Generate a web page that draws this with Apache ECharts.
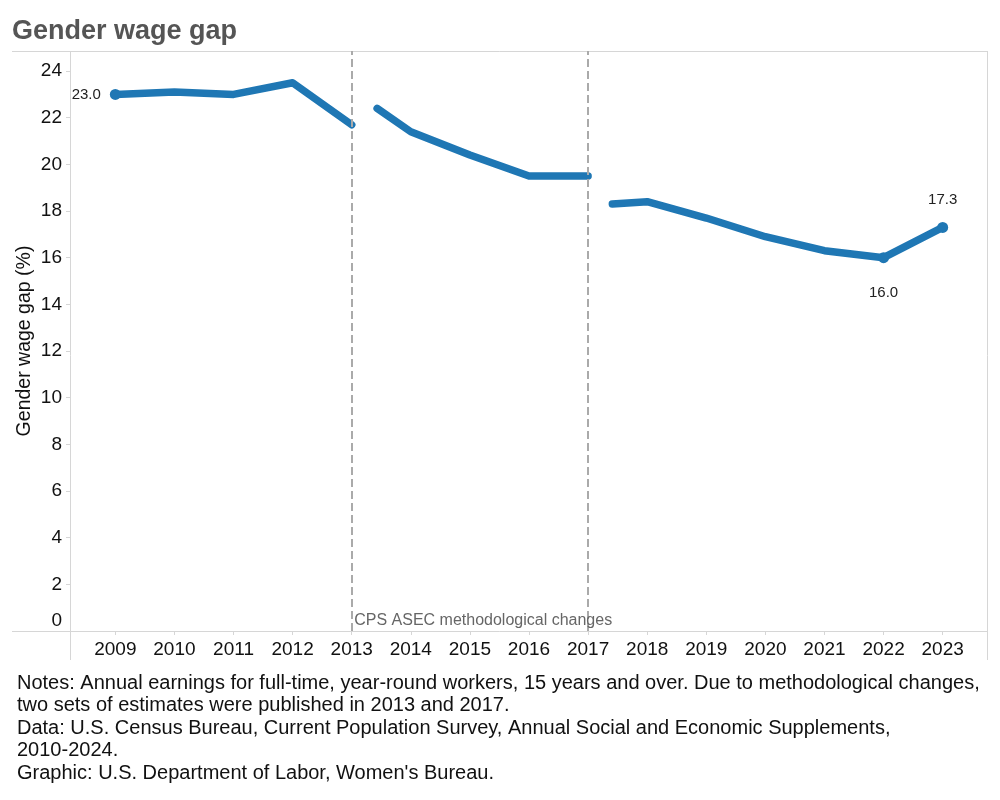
<!DOCTYPE html>
<html>
<head>
<meta charset="utf-8">
<script src="https://cdn.jsdelivr.net/npm/echarts@6/dist/echarts.min.js"></script>
<style>html,body{margin:0;padding:0;background:#fff}#c{width:1000px;height:800px}</style>
</head>
<body>
<div id="c"></div>
<script>
// ---- data ----
const years = [2009, 2010, 2011, 2012, 2013, 2014, 2015, 2016, 2017, 2018, 2019, 2020, 2021, 2022, 2023];
const yTicks = [0, 2, 4, 6, 8, 10, 12, 14, 16, 18, 20, 22, 24];
const seg1Years = [2009, 2010, 2011, 2012, 2013];
const seg1Gap = [23.0, 23.1, 23.0, 23.5, 21.7];
const seg2Years = [2013.43, 2014, 2015, 2016, 2017];
const seg2Gap = [22.4, 21.4, 20.4, 19.5, 19.5];
const seg3Years = [2017.41, 2018, 2019, 2020, 2021, 2022, 2023];
const seg3Gap = [18.3, 18.4, 17.7, 16.9, 16.3, 16.0, 17.3];
const changeYears = [2013, 2017];
const changeLabel = 'CPS ASEC methodological changes';
const titleText = 'Gender wage gap';
const yName = 'Gender wage gap (%)';
const notes = [
  'Notes: Annual earnings for full-time, year-round workers, 15 years and over. Due to methodological changes,',
  'two sets of estimates were published in 2013 and 2017.',
  'Data: U.S. Census Bureau, Current Population Survey, Annual Social and Economic Supplements,',
  '2010-2024.',
  'Graphic: U.S. Department of Labor, Women\'s Bureau.'
];
// which points carry a dot and a value label
const labelled = {
  '2009': {position: 'left', distance: 9},
  '2022': {position: 'bottom', distance: 22},
  '2023': {position: 'top', distance: 15}
};

const FONT = '"Liberation Sans", Arial, sans-serif';
const BLUE = '#1f77b4';
const AXIS = '#d6d6d6';

function build(xs, ys) {
  return xs.map((x, i) => {
    const item = {value: [x, ys[i]]};
    const l = labelled[String(x)];
    if (l) {
      item.symbolSize = 11;
      item.label = {
        show: true, position: l.position, distance: l.distance,
        fontFamily: FONT, fontSize: 15, color: '#222',
        formatter: p => p.value[1].toFixed(1)
      };
    }
    return item;
  });
}

function lineSeries(xs, ys, extra) {
  return Object.assign({
    type: 'line',
    data: build(xs, ys),
    symbol: 'circle',
    symbolSize: 0,
    showAllSymbol: true,
    itemStyle: {color: BLUE},
    lineStyle: {color: BLUE, width: 7.5, cap: 'round', join: 'round'},
    silent: true,
    animation: false,
    z: 3
  }, extra || {});
}

const chart = echarts.init(document.getElementById('c'), null, {renderer: 'canvas'});
chart.setOption({
  backgroundColor: '#fff',
  animation: false,
  title: [
    {text: titleText, left: 7, top: 13,
     textStyle: {fontFamily: FONT, fontSize: 27, fontWeight: 'bold', color: '#555'}},
    {text: notes.join('\n'), left: 12, top: 667,
     textStyle: {fontFamily: FONT, fontSize: 20, fontWeight: 'normal', color: '#111', lineHeight: 22.5}}
  ],
  grid: {left: 71, right: 13, top: 51, bottom: 169, containLabel: false},
  xAxis: {
    type: 'value', min: 2008.25, max: 2023.75,
    axisLine: {show: false},
    axisTick: {show: true, customValues: years, length: 4, lineStyle: {color: AXIS}},
    axisLabel: {customValues: years, margin: 9, fontFamily: FONT, fontSize: 19, color: '#111',
                formatter: v => String(v)},
    splitLine: {show: false}
  },
  yAxis: {
    type: 'value', min: 0, max: 24.86,
    name: yName, nameLocation: 'middle', nameGap: 36, nameRotate: 90, nameMoveOverlap: false,
    nameTextStyle: {fontFamily: FONT, fontSize: 19.5, color: '#111'},
    axisLine: {show: false},
    axisTick: {show: true, customValues: yTicks, length: 5, lineStyle: {color: AXIS}},
    axisLabel: {customValues: yTicks, margin: 9, fontFamily: FONT, fontSize: 19, color: '#111',
                formatter: v => v === 0 ? '{z|0}' : String(v),
                rich: {z: {fontFamily: FONT, fontSize: 19, color: '#111', padding: [0, 0, 20, 0]}}},
    splitLine: {show: false}
  },
  graphic: [
    {type: 'line', shape: {x1: 12, y1: 51.5, x2: 987.5, y2: 51.5}, style: {stroke: AXIS, lineWidth: 1}, silent: true},
    {type: 'line', shape: {x1: 12, y1: 631.5, x2: 987.5, y2: 631.5}, style: {stroke: AXIS, lineWidth: 1}, silent: true},
    {type: 'line', shape: {x1: 70.5, y1: 51, x2: 70.5, y2: 660}, style: {stroke: AXIS, lineWidth: 1}, silent: true},
    {type: 'line', shape: {x1: 987.5, y1: 51, x2: 987.5, y2: 660}, style: {stroke: AXIS, lineWidth: 1}, silent: true}
  ],
  series: [
    lineSeries(seg1Years, seg1Gap, {
      markLine: {
        silent: true, symbol: ['none', 'none'], animation: false,
        label: {show: false},
        lineStyle: {type: [8, 4], color: '#aaa', width: 2},
        emphasis: {disabled: true},
        data: changeYears.map(y => ({xAxis: y}))
      },
      markPoint: {
        silent: true, animation: false,
        symbol: 'circle', symbolSize: 1, itemStyle: {color: 'rgba(0,0,0,0)'},
        label: {show: true, position: 'right', distance: 2, offset: [0, -10],
                fontFamily: FONT, fontSize: 16, color: '#666', formatter: changeLabel},
        data: [{coord: [changeYears[0], 0]}]
      }
    }),
    lineSeries(seg2Years, seg2Gap),
    lineSeries(seg3Years, seg3Gap)
  ]
});
</script>
</body>
</html>
